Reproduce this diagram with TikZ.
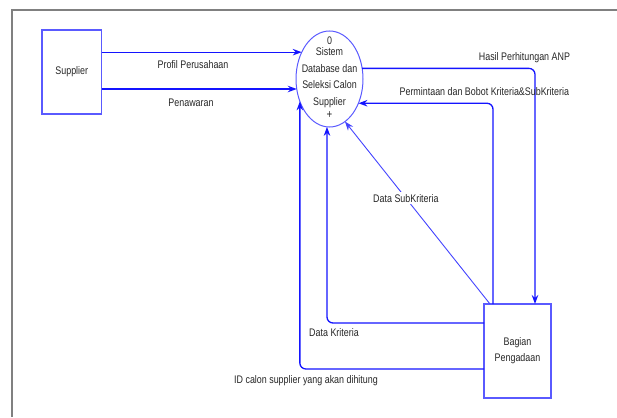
\documentclass[tikz,border=0pt]{standalone}
\usepackage{fontspec}
\setmainfont{Liberation Sans}[FakeStretch=0.81]
\usetikzlibrary{shapes.geometric,arrows.meta}

\definecolor{flowblue}{RGB}{20,20,255}
\definecolor{boxblue}{RGB}{90,90,255}
\definecolor{framegray}{RGB}{128,128,128}

\begin{document}
\begin{tikzpicture}[x=1pt,y=-1pt,
  every node/.style={font=\fontsize{11}{13}\selectfont, inner sep=0pt, outer sep=0pt, text=black!85},
  entity/.style={draw=boxblue, line width=1.6pt, rectangle, align=center},
  process/.style={draw=boxblue, line width=1pt, ellipse, minimum width=67pt, minimum height=96pt},
  flow/.style={draw=flowblue, line width=1.3pt, rounded corners=6pt, -{Stealth[length=9pt,width=6.5pt]}},
  thinflow/.style={draw=flowblue!80, line width=0.9pt, -{Stealth[length=9pt,width=6.5pt]}},
  frame/.style={draw=framegray, line width=1.6pt},
  lbl/.style={align=center}]
\useasboundingbox (0,0) rectangle (617,417);

% outer frame (top and left edges)
\draw[frame] (12,417) -- (12,10) -- (617,10);

% external entities and the context process
\node[entity, minimum width=59.5pt, minimum height=84pt] (sup) at (71.75,72) {Supplier};
\node[entity, minimum width=67pt, minimum height=94pt] (bag) at (517.5,351) {Bagian\\[3pt]Pengadaan};
\node[process] (sys) at (329.5,79) {};
\node (pnum) at (329.5,40.7) {0};
\node[lbl, font=\fontsize{11}{16.5}\selectfont] (pname) at (329.5,77.5) {Sistem\\Database dan\\Seleksi Calon\\Supplier};
\node[font=\fontsize{12}{12}\selectfont] (pplus) at (329.5,115.5) {+};

% flows from the supplier
\draw[flow] (sup.east |- sys.136) -- (sys.136);
\draw[flow] (sup.east |- sys.197) -- (sys.197);
\node (lprofil) at (193,65) {Profil Perusahaan};
\node (lpenaw) at (191,103) {Penawaran};

% flows between the process and Bagian Pengadaan
\draw[flow] (sys.18.6) -| ([xshift=17.5pt]bag.north);
\node[anchor=east] (lhasil) at (570,58) {Hasil Perhitungan ANP};

\draw[flow] ([xshift=-24.5pt]bag.north) |- (sys.320.4);
\node[anchor=east] (lperm) at (569,92) {Permintaan dan Bobot Kriteria\&SubKriteria};

\draw[thinflow] ([xshift=-27.5pt]bag.north) -- node[pos=0.58, fill=white, inner sep=2pt] (lsub) {Data SubKriteria} (sys.290);

\draw[flow] ([yshift=28pt]bag.west) -| (sys.267);
\node (lkrit) at (334,333) {Data Kriteria};

\draw[flow] ([yshift=-18pt]bag.west) -| (sys.217.6);
\node (lid) at (306,381) {ID calon supplier yang akan dihitung};
\end{tikzpicture}
\end{document}
